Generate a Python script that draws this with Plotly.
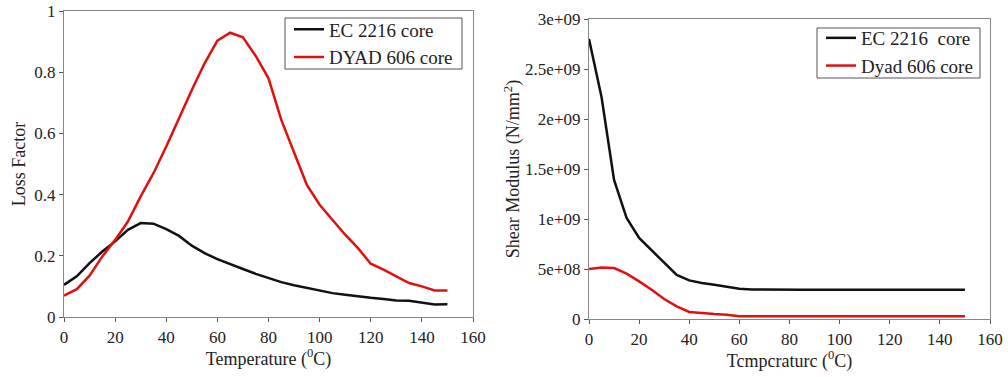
import plotly.graph_objects as go

temp = [0, 5, 10, 15, 20, 25, 30, 35, 40, 45, 50, 55, 60, 65, 70, 75, 80, 85, 90, 95,
        100, 105, 110, 115, 120, 125, 130, 135, 140, 145, 150]

loss_ec = [0.105, 0.133, 0.176, 0.214, 0.247, 0.285, 0.307, 0.305, 0.287, 0.265, 0.233,
           0.209, 0.189, 0.174, 0.157, 0.141, 0.127, 0.114, 0.104, 0.096, 0.087, 0.078,
           0.073, 0.067, 0.063, 0.059, 0.054, 0.053, 0.046, 0.041, 0.042]
loss_dyad = [0.070, 0.091, 0.135, 0.198, 0.252, 0.312, 0.394, 0.470, 0.557, 0.650, 0.742,
             0.829, 0.903, 0.929, 0.914, 0.853, 0.780, 0.644, 0.535, 0.432, 0.367, 0.318,
             0.269, 0.225, 0.174, 0.155, 0.133, 0.111, 0.100, 0.087, 0.087]

shear_ec = [2.80e9, 2.22e9, 1.39e9, 1.01e9, 0.81e9, 0.686e9, 0.56e9, 0.44e9, 0.386e9,
            0.36e9, 0.343e9, 0.326e9, 0.303e9, 0.295e9, 0.293e9, 0.293e9, 0.293e9,
            0.293e9, 0.293e9, 0.293e9, 0.293e9, 0.293e9, 0.293e9, 0.293e9, 0.300e9,
            0.293e9, 0.293e9, 0.300e9, 0.293e9, 0.293e9, 0.293e9]
shear_dyad = [0.50e9, 0.516e9, 0.51e9, 0.453e9, 0.376e9, 0.293e9, 0.20e9, 0.127e9, 0.07e9,
              0.057e9, 0.05e9, 0.043e9, 0.027e9, 0.027e9, 0.027e9, 0.027e9, 0.027e9,
              0.027e9, 0.027e9, 0.027e9, 0.027e9, 0.027e9, 0.027e9, 0.027e9, 0.027e9,
              0.027e9, 0.027e9, 0.027e9, 0.027e9, 0.027e9, 0.027e9]

x_ticks = [0, 20, 40, 60, 80, 100, 120, 140, 160]
loss_ticks = [0, 0.2, 0.4, 0.6, 0.8, 1]
loss_ticktext = ["0", "0.2", "0.4", "0.6", "0.8", "1"]
shear_ticks = [0, 5e8, 1e9, 1.5e9, 2e9, 2.5e9, 3e9]
shear_ticktext = ["0", "5e+08", "1e+09", "1.5e+09", "2e+09", "2.5e+09", "3e+09"]

FONT = "Liberation Serif, Times New Roman, DejaVu Serif, serif"
BLACK = "#111111"
RED = "#e01010"

fig = go.Figure()
fig.add_trace(go.Scatter(x=temp, y=loss_ec, mode="lines", name="EC 2216 core",
                         line=dict(color=BLACK, width=2.5), xaxis="x", yaxis="y", legend="legend"))
fig.add_trace(go.Scatter(x=temp, y=loss_dyad, mode="lines", name="DYAD 606 core",
                         line=dict(color=RED, width=2.5), xaxis="x", yaxis="y", legend="legend"))
fig.add_trace(go.Scatter(x=temp, y=shear_ec, mode="lines", name="EC 2216  core",
                         line=dict(color=BLACK, width=2.5), xaxis="x2", yaxis="y2", legend="legend2"))
fig.add_trace(go.Scatter(x=temp, y=shear_dyad, mode="lines", name="Dyad 606 core",
                         line=dict(color=RED, width=2.5), xaxis="x2", yaxis="y2", legend="legend2"))

axis_common = dict(showgrid=False, zeroline=False, showline=True, linecolor="#888888",
                   linewidth=1.2, mirror=True, ticks="outside", ticklen=4, automargin=False,
                   tickcolor="#555555", tickfont=dict(family=FONT, size=17, color="#222222"))

W, H = 1008, 377


def px(xp):
    return xp / W


def py(yp):
    return 1 - yp / H


fig.update_layout(
    template="none",
    width=W, height=H,
    margin=dict(l=0, r=0, t=0, b=0, pad=0),
    paper_bgcolor="white", plot_bgcolor="white",
    font=dict(family=FONT, color="#222222"),
    xaxis=dict(domain=[px(64), px(473)], range=[0, 160], tickvals=x_ticks,
               title=dict(text="Temperature (<sup>0</sup>C)", font=dict(family=FONT, size=18), standoff=6),
               anchor="y", **axis_common),
    yaxis=dict(domain=[py(317), py(11)], range=[0, 1], tickvals=loss_ticks,
               ticktext=loss_ticktext,
               title=dict(text="Loss Factor", font=dict(family=FONT, size=18), standoff=3),
               anchor="x", **axis_common),
    xaxis2=dict(domain=[px(589), px(990)], range=[0, 160], tickvals=x_ticks,
                title=dict(text="Tcmpcraturc (<sup>0</sup>C)", font=dict(family=FONT, size=18), standoff=6),
                anchor="y2", **axis_common),
    yaxis2=dict(domain=[py(319), py(19)], range=[0, 3e9], tickvals=shear_ticks,
                ticktext=shear_ticktext,
                title=dict(text="Shear Modulus (N/mm<sup>2</sup>)", font=dict(family=FONT, size=18), standoff=0),
                anchor="x2", **axis_common),
    legend=dict(x=px(289), y=py(10.5), xanchor="left", yanchor="top",
                bgcolor="rgba(0,0,0,0)", borderwidth=0,
                font=dict(family=FONT, size=19, color="#222222"), tracegroupgap=0,
                itemwidth=30),
    legend2=dict(x=px(821), y=py(19), xanchor="left", yanchor="top",
                 bgcolor="rgba(0,0,0,0)", borderwidth=0,
                 font=dict(family=FONT, size=19, color="#222222"), tracegroupgap=0,
                 itemwidth=30),
    showlegend=True,
    shapes=[
        dict(type="rect", xref="paper", yref="paper", x0=px(285), x1=px(462), y0=py(69), y1=py(18),
             line=dict(color="#555555", width=1), fillcolor="white", layer="below"),
        dict(type="rect", xref="paper", yref="paper", x0=px(817), x1=px(980), y0=py(78), y1=py(28),
             line=dict(color="#555555", width=1), fillcolor="white", layer="below"),
    ],
)

fig.write_html("out.html")
